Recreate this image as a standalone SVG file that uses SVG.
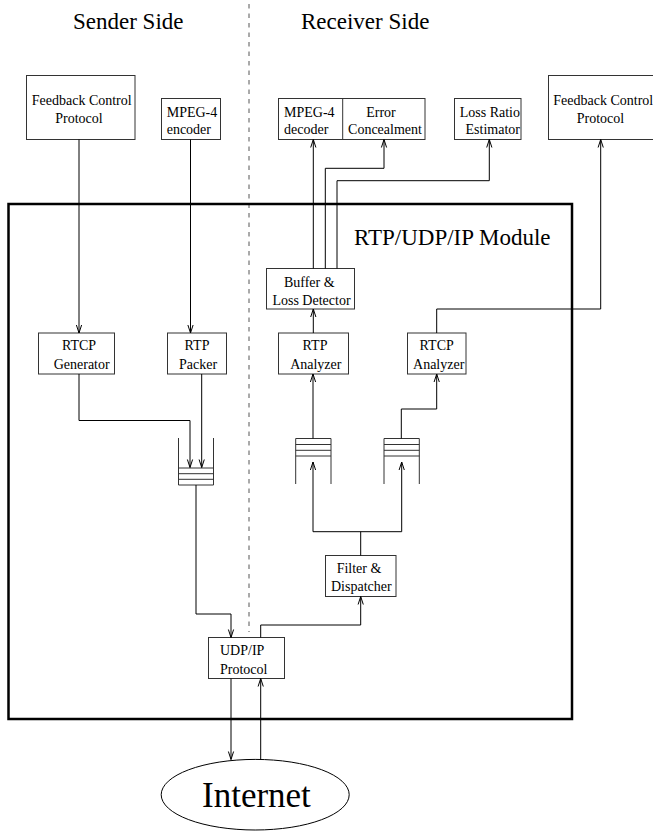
<svg xmlns="http://www.w3.org/2000/svg" width="653" height="831" viewBox="0 0 653 831">
  <style>
    .box { fill: #fff; stroke: #333; stroke-width: 1; }
    .wire { fill: none; stroke: #000; stroke-width: 1; }
    .q { fill: none; stroke: #333; stroke-width: 1; }
    text { font-family: "Liberation Serif", "Times New Roman", serif; fill: #000; }
    .t { font-size: 14px; }
    .m { text-anchor: middle; }
    .e { text-anchor: end; }
    .lbl { font-size: 12px; text-anchor: middle; }
    .big { font-size: 23px; }
  </style>
  <defs>
    <marker id="arr" viewBox="-9 -4 10 8" refX="0" refY="0" markerWidth="10" markerHeight="8" markerUnits="userSpaceOnUse" orient="auto">
      <path d="M-8,-2.6 L0,0 L-8,2.6" fill="none" stroke="#000" stroke-width="1"/>
    </marker>
  </defs>
  <rect width="653" height="831" fill="#fff"/>

  <!-- side divider and headings -->
  <line x1="249" y1="4" x2="249" y2="632" stroke="#555" stroke-width="1" stroke-dasharray="4.5 5"/>
  <text class="big" x="73" y="29">Sender Side</text>
  <text class="big" x="301" y="29">Receiver Side</text>

  <!-- module frame -->
  <g id="module">
    <rect x="8.5" y="204" width="563.5" height="515" fill="none" stroke="#000" stroke-width="2.5"/>
    <text class="big" x="354" y="245">RTP/UDP/IP Module</text>
  </g>

  <!-- sender side nodes -->
  <g id="fcp-sender">
    <rect class="box" x="26.5" y="75.5" width="108.5" height="64"/>
    <text class="t m" x="81.7" y="105">Feedback Control</text>
    <text class="t m" x="79" y="122.7">Protocol</text>
  </g>
  <g id="mpeg4-encoder">
    <rect class="box" x="161.5" y="98.5" width="59" height="41"/>
    <text class="t" x="166.7" y="116.7">MPEG-4</text>
    <text class="t" x="166.7" y="134">encoder</text>
  </g>
  <g id="rtcp-generator">
    <rect class="box" x="38.5" y="333" width="76" height="41"/>
    <text class="t m" x="79" y="350">RTCP</text>
    <text class="t m" x="81.7" y="368.5">Generator</text>
  </g>
  <g id="rtp-packer">
    <rect class="box" x="167.5" y="333" width="59" height="41"/>
    <text class="t m" x="197" y="350">RTP</text>
    <text class="t m" x="198" y="368.5">Packer</text>
  </g>
  <g id="send-queue">
    <path class="q" d="M178.5,438 V485 H213.5 V438 M178.5,468 H213.5 M178.5,473.7 H213.5 M178.5,479.3 H213.5"/>
  </g>

  <!-- receiver side nodes -->
  <g id="mpeg4-decoder">
    <rect class="box" x="278.5" y="98.5" width="146.5" height="41"/>
    <line x1="342.7" y1="98.5" x2="342.7" y2="139.5" stroke="#333" stroke-width="1"/>
    <text class="t" x="284" y="116.7">MPEG-4</text>
    <text class="t" x="284" y="134">decoder</text>
  </g>
  <g id="error-concealment">
    <text class="t m" x="381" y="116.7">Error</text>
    <text class="t m" x="385" y="134">Concealment</text>
  </g>
  <g id="loss-ratio-estimator">
    <rect class="box" x="454.5" y="98.5" width="66.5" height="41"/>
    <text class="t e" x="520" y="116.7">Loss Ratio</text>
    <text class="t e" x="520" y="134">Estimator</text>
  </g>
  <g id="fcp-receiver">
    <rect class="box" x="548.5" y="75.5" width="120" height="64"/>
    <text class="t" x="553.3" y="105">Feedback Control</text>
    <text class="t m" x="600.5" y="122.7">Protocol</text>
  </g>
  <g id="buffer-loss-detector">
    <rect class="box" x="266.5" y="268.5" width="88" height="40.5"/>
    <text class="t m" x="309.3" y="286.5">Buffer &amp;</text>
    <text class="t m" x="311.5" y="305">Loss Detector</text>
  </g>
  <g id="rtp-analyzer">
    <rect class="box" x="278.5" y="333" width="70" height="41"/>
    <text class="t m" x="315" y="350">RTP</text>
    <text class="t m" x="315.8" y="368.5">Analyzer</text>
  </g>
  <g id="rtcp-analyzer">
    <rect class="box" x="407.5" y="333" width="58.5" height="41"/>
    <text class="t m" x="436.7" y="350">RTCP</text>
    <text class="t m" x="438.7" y="368.5">Analyzer</text>
  </g>
  <g id="rtp-queue">
    <path class="q" d="M295.7,484 V438.5 H331 V484 M295.7,444.5 H331 M295.7,450.3 H331 M295.7,456 H331"/>
  </g>
  <g id="rtcp-queue">
    <path class="q" d="M384,484 V438.5 H419.3 V484 M384,444.5 H419.3 M384,450.3 H419.3 M384,456 H419.3"/>
  </g>
  <g id="filter-dispatcher">
    <rect class="box" x="325.5" y="555.5" width="70.5" height="41"/>
    <text class="t m" x="359" y="573">Filter &amp;</text>
    <text class="t m" x="361.3" y="590.5">Dispatcher</text>
  </g>
  <g id="udp-ip">
    <rect class="box" x="208.5" y="637.5" width="76" height="41"/>
    <text class="t" x="220" y="654.5" font-size="13">UDP/IP</text>
    <text class="t" x="220" y="673.5">Protocol</text>
  </g>
  <g id="internet">
    <ellipse cx="255.2" cy="794.7" rx="94" ry="35.3" fill="#fff" stroke="#000" stroke-width="1"/>
    <text x="202" y="806.7" font-size="35">Internet</text>
  </g>

  <!-- connectors -->
  <g id="connectors" class="wire">
    <path class="wire" d="M79,139.5 V333" marker-end="url(#arr)"/>
    <path class="wire" d="M190.5,139.5 V333" marker-end="url(#arr)"/>
    <path class="wire" d="M79,374 V420.5 H190 V467.5" marker-end="url(#arr)"/>
    <path class="wire" d="M201.7,374 V467.5" marker-end="url(#arr)"/>
    <path class="wire" d="M196,485 V614 H231 V637.5" marker-end="url(#arr)"/>
    <path class="wire" d="M260.7,637.5 V625 H360.7 V596.5" marker-end="url(#arr)"/>
    <path class="wire" d="M360.7,555.5 V531.7 M313,531.7 H401.7"/>
    <path class="wire" d="M313,531.7 V462" marker-end="url(#arr)"/>
    <path class="wire" d="M401.7,531.7 V462" marker-end="url(#arr)"/>
    <path class="wire" d="M313,438.5 V374" marker-end="url(#arr)"/>
    <path class="wire" d="M401.3,438.5 V409 H436.7 V374" marker-end="url(#arr)"/>
    <path class="wire" d="M313.3,333 V309" marker-end="url(#arr)"/>
    <path class="wire" d="M313.3,268.5 V139.5" marker-end="url(#arr)"/>
    <path class="wire" d="M325.3,268.5 V168.3 H384 V139.5" marker-end="url(#arr)"/>
    <path class="wire" d="M337,268.5 V180.7 H489.3 V139.5" marker-end="url(#arr)"/>
    <path class="wire" d="M436.7,333 V309 H600.7 V139.5" marker-end="url(#arr)"/>
    <path class="wire" d="M231,678.5 V759.5" marker-end="url(#arr)"/>
    <path class="wire" d="M260.7,760 V678.5" marker-end="url(#arr)"/>
  </g>
</svg>
